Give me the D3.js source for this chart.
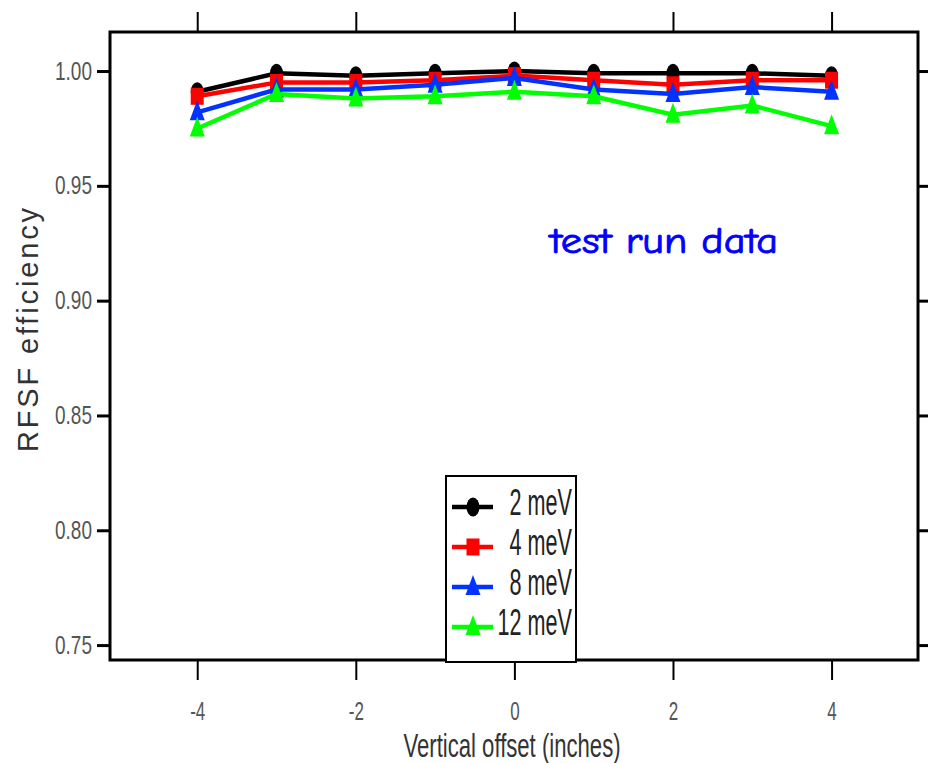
<!DOCTYPE html>
<html><head><meta charset="utf-8">
<script src="https://cdn.jsdelivr.net/npm/d3@7"></script>
<style>body{margin:0;background:#fff}</style>
</head><body>
<svg id="c" width="928" height="763"></svg>
<script>
const offsets = [-4, -3, -2, -1, 0, 1, 2, 3, 4];
const eff2 = [0.991, 0.999, 0.998, 0.999, 1.000, 0.999, 0.999, 0.999, 0.998];
const eff4 = [0.989, 0.995, 0.995, 0.996, 0.998, 0.996, 0.994, 0.996, 0.996];
const eff8 = [0.982, 0.992, 0.992, 0.994, 0.997, 0.992, 0.990, 0.993, 0.991];
const eff12 = [0.975, 0.990, 0.988, 0.989, 0.991, 0.989, 0.981, 0.985, 0.976];
const seriesNames = ["2 meV", "4 meV", "8 meV", "12 meV"];
const seriesColors = ["#000000", "#ff0000", "#0033ff", "#00ff00"];
const seriesShapes = ["ellipse", "square", "triangle", "triangle"];
const xTicks = [-4, -2, 0, 2, 4];
const yTicks = [0.75, 0.80, 0.85, 0.90, 0.95, 1.00];

const series = [eff2, eff4, eff8, eff12].map((v, i) => ({name: seriesNames[i], color: seriesColors[i], shape: seriesShapes[i], values: v}));

const svg = d3.select("#c");
const L = 110, R = 918, T = 32, B = 660;
const x = d3.scaleLinear().domain([-5.1, 5.09]).range([L, R]);
const y = d3.scaleLinear().domain([0.7435, 1.017]).range([B, T]);

const sans = "'Liberation Sans', Arial, sans-serif";
function narrow(sel, f) {
  sel.each(function () {
    const w = this.getComputedTextLength();
    d3.select(this).attr("textLength", w * f).attr("lengthAdjust", "spacingAndGlyphs");
  });
}

// frame
svg.append("rect").attr("x", L).attr("y", T).attr("width", R - L).attr("height", B - T)
  .attr("fill", "none").attr("stroke", "#000").attr("stroke-width", 3);

// axes (ticks outward)
const gy = svg.append("g").attr("transform", `translate(${L},0)`)
  .call(d3.axisLeft(y).tickValues(yTicks).tickSize(13).tickFormat(d3.format(".2f")));
gy.select(".domain").remove();
gy.selectAll(".tick line").attr("stroke-width", 3);
gy.selectAll(".tick text").attr("font-family", sans).attr("font-size", 25).attr("fill", "#555").attr("x", -18);
narrow(gy.selectAll(".tick text"), 0.76);

const gyr = svg.append("g").attr("transform", `translate(${R},0)`)
  .call(d3.axisRight(y).tickValues(yTicks).tickSize(12).tickFormat(""));
gyr.select(".domain").remove();
gyr.selectAll(".tick line").attr("stroke-width", 3);

const gx = svg.append("g").attr("transform", `translate(0,${B})`)
  .call(d3.axisBottom(x).tickValues(xTicks).tickSize(20).tickFormat(d => String(d)));
gx.select(".domain").remove();
gx.selectAll(".tick line").attr("stroke-width", 2);
gx.selectAll(".tick text").attr("font-family", sans).attr("font-size", 25).attr("fill", "#555").attr("y", 42);
narrow(gx.selectAll(".tick text"), 0.68);

const gxt = svg.append("g").attr("transform", `translate(0,${T})`)
  .call(d3.axisTop(x).tickValues(xTicks).tickSize(20).tickFormat(""));
gxt.select(".domain").remove();
gxt.selectAll(".tick line").attr("stroke-width", 2);

// titles
svg.append("text").attr("transform", "translate(38,330) rotate(-90)").attr("text-anchor", "middle")
  .attr("font-family", sans).attr("font-size", 29).attr("fill", "#333")
  .attr("textLength", 244).attr("lengthAdjust", "spacing").text("RFSF efficiency");
const xt = svg.append("text").attr("x", 512).attr("y", 757).attr("text-anchor", "middle")
  .attr("font-family", sans).attr("font-size", 33).attr("fill", "#333").text("Vertical offset (inches)");
narrow(xt, 0.67);
svg.append("text").attr("x", 550).attr("y", 253)
  .attr("font-family", "'Comic Sans MS', 'Comic Neue', 'Open Sans', sans-serif").attr("font-size", 36)
  .attr("font-weight", 500).attr("fill", "#0000ff").attr("stroke", "#0000ff").attr("stroke-width", 0.9)
  .attr("textLength", 228).attr("lengthAdjust", "spacingAndGlyphs").text("test run data");

function marker(g, shape, color, cx, cy) {
  if (shape === "ellipse") {
    g.append("ellipse").attr("cx", cx).attr("cy", cy).attr("rx", 6.5).attr("ry", 9.5).attr("fill", color);
  } else if (shape === "square") {
    g.append("rect").attr("x", cx - 6.5).attr("y", cy - 8.5).attr("width", 13).attr("height", 17).attr("fill", color);
  } else {
    g.append("path").attr("d", `M${cx},${cy - 12} L${cx + 7.5},${cy + 8} L${cx - 7.5},${cy + 8} Z`).attr("fill", color);
  }
}

const line = d3.line().x((d, i) => x(offsets[i])).y(d => y(d));
series.forEach(s => {
  const g = svg.append("g");
  g.append("path").datum(s.values).attr("d", line).attr("fill", "none").attr("stroke", s.color).attr("stroke-width", 4.5);
  s.values.forEach((v, i) => marker(g, s.shape, s.color, x(offsets[i]), y(v)));
});

// legend
const lg = svg.append("g");
lg.append("rect").attr("x", 446).attr("y", 476).attr("width", 130).attr("height", 186)
  .attr("fill", "#fff").attr("stroke", "#000").attr("stroke-width", 2);
const rowY = d3.scalePoint().domain(seriesNames).range([507, 627]);
series.forEach(s => {
  const ry = rowY(s.name);
  lg.append("line").attr("x1", 452).attr("x2", 493).attr("y1", ry).attr("y2", ry).attr("stroke", s.color).attr("stroke-width", 4.5);
  marker(lg, s.shape, s.color, 473, ry);
  const t = lg.append("text").attr("x", 572).attr("y", ry + 8).attr("text-anchor", "end")
    .attr("font-family", sans).attr("font-size", 36).attr("fill", "#222").text(s.name);
  narrow(t, 0.6);
});
</script>
</body></html>
